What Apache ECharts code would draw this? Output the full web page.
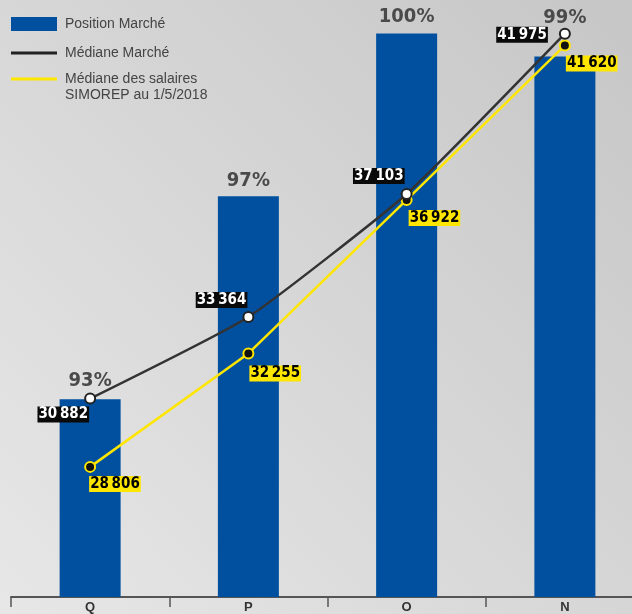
<!DOCTYPE html>
<html>
<head>
<meta charset="utf-8">
<script src="https://cdn.jsdelivr.net/npm/echarts@6/dist/echarts.min.js"></script>
<style>
html,body{margin:0;padding:0;overflow:hidden;}
#chart{width:632px;height:614px;}
</style>
</head>
<body>
<div id="chart"></div>
<script>
var categories = ['Q', 'P', 'O', 'N'];
var positionPct = [93, 97, 100, 99];
var barHeights = [30860, 37030, 41985, 41285];
var medianeMarche = [30882, 33364, 37103, 41975];
var medianeSimorep = [28806, 32255, 36922, 41620];
var seriesNames = ['Position Marché', 'Médiane Marché', 'Médiane des salaires\nSIMOREP au 1/5/2018'];

var pctDistance = [9, 6, 7, 29];
var blackLabelPos = [
  {position: 'left', offset: [5, 16]},
  {position: 'left', offset: [5, -17]},
  {position: 'left', offset: [4, -18]},
  {position: 'left', offset: [-11, 1]}
];
var yellowLabelPos = [
  {position: 'right', offset: [-7, 17]},
  {position: 'right', offset: [-5, 20]},
  {position: 'right', offset: [-4, 18]},
  {position: 'right', offset: [-5, 18]}
];

function fmt(v) {
  var s = String(v);
  return s.slice(0, s.length - 3) + '\u202F' + s.slice(s.length - 3);
}

var labelFont = 'DejaVu Sans Condensed';
var legendText = {fontSize: 14, lineHeight: 16, color: '#444', fontFamily: 'Liberation Sans', padding: [0, 0, 0, 3]};

var chart = echarts.init(document.getElementById('chart'));
var option = {
  animation: false,
  backgroundColor: {
    type: 'linear', x: 0, y: 1, x2: 1, y2: 0,
    colorStops: [{offset: 0, color: '#e7e7e7'}, {offset: 1, color: '#c6c6c6'}]
  },
  legend: [
    {
      data: [seriesNames[0]],
      left: 11, top: 16, padding: 0,
      itemWidth: 46, itemHeight: 14,
      icon: 'rect',
      selectedMode: false,
      textStyle: legendText
    },
    {
      data: [{name: seriesNames[1], itemStyle: {color: '#222', borderWidth: 0}}],
      left: 11, top: 45, padding: 0,
      itemWidth: 46, itemHeight: 3,
      icon: 'rect',
      selectedMode: false,
      textStyle: legendText
    },
    {
      data: [{name: seriesNames[2], itemStyle: {color: '#ffe600', borderWidth: 0}}],
      left: 11, top: 55, padding: 0,
      itemWidth: 46, itemHeight: 3,
      icon: 'rect',
      selectedMode: false,
      formatter: function (name) { return '\n' + name; },
      textStyle: legendText
    }
  ],
  grid: {left: 11, width: 633, top: 0, bottom: 17, containLabel: false, outerBoundsMode: 'none'},
  xAxis: {
    type: 'category',
    data: categories,
    boundaryGap: true,
    axisLine: {lineStyle: {color: '#555', width: 2}},
    axisTick: {show: true, length: 10, lineStyle: {color: '#555', width: 1.5}},
    axisLabel: {color: '#333', fontWeight: 'bold', fontSize: 13, margin: 4, fontFamily: 'Liberation Sans'}
  },
  yAxis: {
    type: 'value', min: 24850, max: 43000, show: false,
    splitLine: {show: false}
  },
  series: [
    {
      name: seriesNames[0],
      type: 'bar',
      barWidth: 61,
      itemStyle: {color: '#00509f'},
      data: barHeights.map(function (v, i) {
        return {
          value: v,
          label: {
            show: true, position: 'top', distance: pctDistance[i],
            formatter: positionPct[i] + '%',
            color: '#4a4a4a', fontWeight: 'bold', fontSize: 20, fontFamily: labelFont
          }
        };
      }),
      z: 1
    },
    {
      name: seriesNames[1],
      type: 'line',
      smooth: 0.15,
      symbol: 'circle',
      symbolSize: 10,
      lineStyle: {color: '#333', width: 2.5},
      itemStyle: {color: '#fff', borderColor: '#222', borderWidth: 2},
      data: medianeMarche.map(function (v, i) {
        return {
          value: v,
          label: {
            show: true,
            position: blackLabelPos[i].position,
            offset: blackLabelPos[i].offset,
            distance: 0,
            formatter: fmt(v),
            color: '#fff', backgroundColor: '#0a0a0a',
            fontWeight: 'bold', fontSize: 15, lineHeight: 16, padding: [0, 1],
            fontFamily: labelFont
          }
        };
      }),
      z: 4
    },
    {
      name: seriesNames[2],
      type: 'line',
      symbol: 'circle',
      symbolSize: 10,
      lineStyle: {color: '#ffe600', width: 2.5},
      itemStyle: {color: '#111', borderColor: '#ffe600', borderWidth: 2},
      data: medianeSimorep.map(function (v, i) {
        return {
          value: v,
          label: {
            show: true,
            position: yellowLabelPos[i].position,
            offset: yellowLabelPos[i].offset,
            distance: 0,
            formatter: fmt(v),
            color: '#000', backgroundColor: '#ffe600',
            fontWeight: 'bold', fontSize: 15, lineHeight: 16, padding: [0, 1],
            fontFamily: labelFont
          }
        };
      }),
      z: 3
    }
  ]
};
chart.setOption(option);
</script>
</body>
</html>
